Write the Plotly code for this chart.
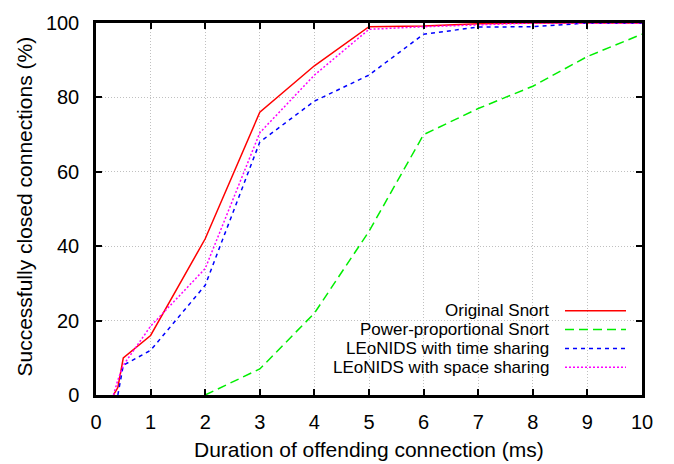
import plotly.graph_objects as go

# ---- data ----
orig_x = [0.32, 0.4, 0.5, 1, 2, 3, 4, 5, 6, 7, 8, 9, 10]
orig_y = [0, 2, 10, 16, 42, 76, 88.5, 99, 99.2, 99.8, 100, 100, 100]

power_x = [2, 3, 4, 5, 6, 7, 8, 9, 10]
power_y = [0, 7, 22, 44, 70, 77, 83, 91, 97]

time_x = [0.4, 0.5, 1, 2, 3, 4, 5, 6, 7, 8, 9, 10]
time_y = [0, 8, 12, 29.5, 68, 79, 86, 97, 98.9, 99, 100, 100]

space_x = [0.32, 0.4, 0.5, 1, 2, 3, 4, 5, 6, 7, 8, 9, 10]
space_y = [0, 4, 8, 18.5, 34, 70.5, 86, 98.3, 99, 99.6, 100, 100, 100]

names = ["Original Snort", "Power-proportional Snort",
         "LEoNIDS with time sharing", "LEoNIDS with space sharing"]
colors = ["#ff0000", "#00ee00", "#0000ff", "#ff00ff"]
dashes = ["solid", "9px,5px", "4px,4px", "2px,2px"]

x_ticks = list(range(0, 11))
y_ticks = [0, 20, 40, 60, 80, 100]

FONT = "Liberation Sans, Arial, Helvetica, sans-serif"
W, H = 674, 464
L, R, T, B = 96, 32, 20, 69
PW, PH = W - L - R, H - T - B


def px(xp):
    return (xp - L) / PW


def py(yp):
    return (H - B - yp) / PH


fig = go.Figure()
series = [(orig_x, orig_y), (power_x, power_y), (time_x, time_y), (space_x, space_y)]
for (xs, ys), n, c, d in zip(series, names, colors, dashes):
    fig.add_trace(go.Scatter(x=xs, y=ys, mode="lines", name=n,
                             line=dict(color=c, width=1.5, dash=d),
                             showlegend=False))

shapes = []
# legend background (covers grid, below traces)
shapes.append(dict(type="rect", xref="paper", yref="paper",
                   x0=px(197), x1=1, y0=py(377), y1=py(300),
                   fillcolor="white", line=dict(width=0), layer="between"))

annotations = []
row_y = [310.0, 329.0, 348.0, 367.0]
for n, c, d, ry in zip(names, colors, dashes, row_y):
    annotations.append(dict(text=n, xref="paper", yref="paper",
                            x=px(551), y=py(ry), xanchor="right", yanchor="middle",
                            showarrow=False, font=dict(size=17, color="black", family=FONT)))
    shapes.append(dict(type="line", xref="paper", yref="paper",
                       x0=px(565), x1=px(626), y0=py(ry), y1=py(ry),
                       line=dict(color=c, width=1.5, dash=d), layer="above"))

annotations.append(dict(text="Duration of offending connection (ms)", xref="paper", yref="paper",
                        x=0.5, y=py(450), xanchor="center", yanchor="middle",
                        showarrow=False, font=dict(size=21, color="black", family=FONT)))
annotations.append(dict(text="Successfully closed connections (%)", xref="paper", yref="paper",
                        x=px(25), y=py(205), xanchor="center", yanchor="middle", textangle=-90,
                        showarrow=False, font=dict(size=21, color="black", family=FONT)))

axis_common = dict(showline=True, linecolor="black", linewidth=2.5, mirror="ticks",
                   ticks="inside", ticklen=6, tickwidth=2, tickcolor="black",
                   showgrid=True, gridcolor="#c0c0c0", gridwidth=1, griddash="1px,2px",
                   zeroline=False, tickfont=dict(size=20, color="black", family=FONT))

fig.update_layout(
    width=W, height=H,
    margin=dict(l=L, r=R, t=T, b=B),
    paper_bgcolor="white", plot_bgcolor="white",
    showlegend=False,
    xaxis=dict(range=[0, 10], tickvals=x_ticks, ticktext=[str(v) for v in x_ticks],
               ticklabelstandoff=7, **axis_common),
    yaxis=dict(range=[0, 100], tickvals=y_ticks, ticktext=[str(v) for v in y_ticks],
               ticklabelstandoff=10, **axis_common),
    shapes=shapes, annotations=annotations,
)

fig.write_html("out.html")
